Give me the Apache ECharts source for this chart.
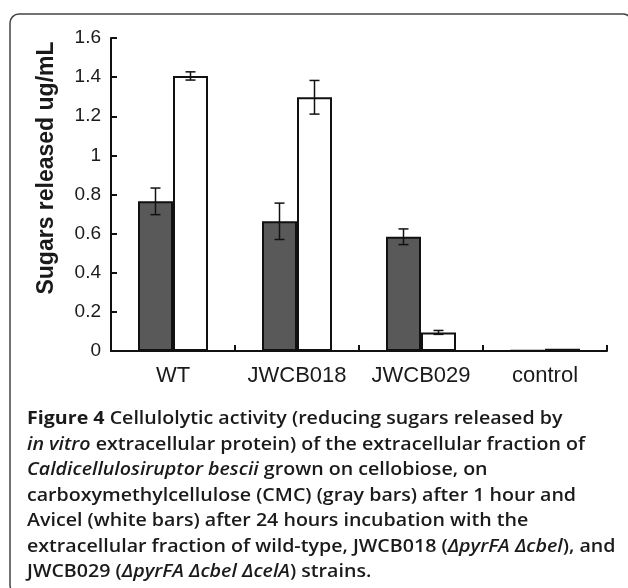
<!DOCTYPE html>
<html>
<head>
<meta charset="utf-8">
<script src="https://cdn.jsdelivr.net/npm/echarts@6/dist/echarts.min.js"></script>
<style>
  html, body { margin: 0; padding: 0; background: #fff; }
  #main { width: 628px; height: 588px; }
</style>
</head>
<body>
<div id="main"></div>
<script>
// data
const categories = ['WT', 'JWCB018', 'JWCB029', 'control'];
const cmcValues = [0.765, 0.663, 0.584, 0.003];      // gray bars
const cmcErrors = [0.068, 0.093, 0.040, 0];
const avicelValues = [1.406, 1.297, 0.095, 0.012];   // white bars
const avicelErrors = [0.021, 0.086, 0.010, 0];
const yMin = 0, yMax = 1.6, yStep = 0.2;

const captionLines = [
  [['b', 'Figure 4'], ['n', ' Cellulolytic activity (reducing sugars released by']],
  [['i', 'in vitro'], ['n', ' extracellular protein) of the extracellular fraction of']],
  [['i', 'Caldicellulosiruptor bescii'], ['n', ' grown on cellobiose, on']],
  [['n', 'carboxymethylcellulose (CMC) (gray bars) after 1 hour and']],
  [['n', 'Avicel (white bars) after 24 hours incubation with the']],
  [['n', 'extracellular fraction of wild-type, JWCB018 ('], ['i', 'ΔpyrFA Δcbel'], ['n', '), and']],
  [['n', 'JWCB029 ('], ['i', 'ΔpyrFA Δcbel ΔcelA'], ['n', ') strains.']]
];

const BAR_W = 35;
const chart = echarts.init(document.getElementById('main'));

// error bars: [categoryIndex, low, high]
const errData = (vals, errs) => vals
  .map((v, i) => [i, v - errs[i], v + errs[i]])
  .filter((d, i) => errs[i] > 0);

const errorBar = (offset) => (params, api) => {
  const lo = api.coord([api.value(0), api.value(1)]);
  const hi = api.coord([api.value(0), api.value(2)]);
  const x = lo[0] + offset;
  const cap = 5;
  const st = { stroke: '#111', lineWidth: 1.5 };
  return {
    type: 'group',
    children: [
      { type: 'line', shape: { x1: x, y1: lo[1], x2: x, y2: hi[1] }, style: st },
      { type: 'line', shape: { x1: x - cap, y1: lo[1], x2: x + cap, y2: lo[1] }, style: st },
      { type: 'line', shape: { x1: x - cap, y1: hi[1], x2: x + cap, y2: hi[1] }, style: st }
    ]
  };
};

const captionFont = '"Open Sans", "Noto Sans", sans-serif';
const rich = {
  b: { fontFamily: captionFont, fontSize: 18, fontWeight: 'bold', fill: '#1a1a1a' },
  n: { fontFamily: captionFont, fontSize: 18, fontWeight: 600, fill: '#1a1a1a' },
  i: { fontFamily: captionFont, fontSize: 18, fontWeight: 600, fontStyle: 'italic', fill: '#1a1a1a' }
};

const captionGraphics = captionLines.map((line, k) => ({
  type: 'text',
  x: 27,
  y: 419 + k * 25.5,
  scaleX: 1.09,
  style: {
    text: line.map(([s, t]) => '{' + s + '|' + t + '}').join(''),
    rich: rich,
    fontFamily: captionFont,
    fontSize: 18,
    textVerticalAlign: 'middle'
  }
}));

const option = {
  animation: false,
  backgroundColor: '#fff',
  textStyle: { fontFamily: '"Liberation Sans", Arial, sans-serif' },
  grid: { left: 111, right: 21, top: 38, bottom: 237 },
  xAxis: {
    type: 'category',
    data: categories,
    axisLine: { lineStyle: { color: '#111', width: 2 } },
    axisTick: { show: true, inside: true, length: 6, lineStyle: { color: '#111', width: 2 } },
    axisLabel: { interval: 0, fontSize: 22, color: '#1a1a1a', margin: 14 }
  },
  yAxis: {
    type: 'value',
    min: yMin,
    max: yMax,
    interval: yStep,
    splitLine: { show: false },
    axisLine: { show: true, lineStyle: { color: '#111', width: 2 } },
    axisTick: { show: true, inside: true, length: 6, lineStyle: { color: '#111', width: 2 } },
    axisLabel: { fontSize: 19, color: '#1a1a1a', margin: 10 }
  },
  series: [
    {
      name: 'CMC',
      type: 'bar',
      data: cmcValues,
      barWidth: BAR_W,
      barGap: '0%',
      itemStyle: { color: '#595959', borderColor: '#111', borderWidth: 2 }
    },
    {
      name: 'Avicel',
      type: 'bar',
      data: avicelValues,
      barWidth: BAR_W,
      barGap: '0%',
      itemStyle: { color: '#fff', borderColor: '#111', borderWidth: 2 }
    },
    {
      type: 'custom',
      renderItem: errorBar(-BAR_W / 2),
      data: errData(cmcValues, cmcErrors),
      z: 10
    },
    {
      type: 'custom',
      renderItem: errorBar(BAR_W / 2),
      data: errData(avicelValues, avicelErrors),
      z: 10
    }
  ],
  graphic: [
    {
      type: 'rect',
      shape: { x: 10, y: 14, width: 622, height: 580, r: 9 },
      style: { fill: 'none', stroke: '#444', lineWidth: 1.5 }
    },
    {
      type: 'text',
      x: 47,
      y: 168,
      rotation: Math.PI / 2,
      style: {
        text: 'Sugars released ug/mL',
        fontFamily: '"Liberation Sans", Arial, sans-serif',
        fontSize: 23,
        fontWeight: 'bold',
        fill: '#1a1a1a',
        textAlign: 'center',
        textVerticalAlign: 'middle'
      }
    }
  ].concat(captionGraphics)
};

chart.setOption(option);
</script>
</body>
</html>
